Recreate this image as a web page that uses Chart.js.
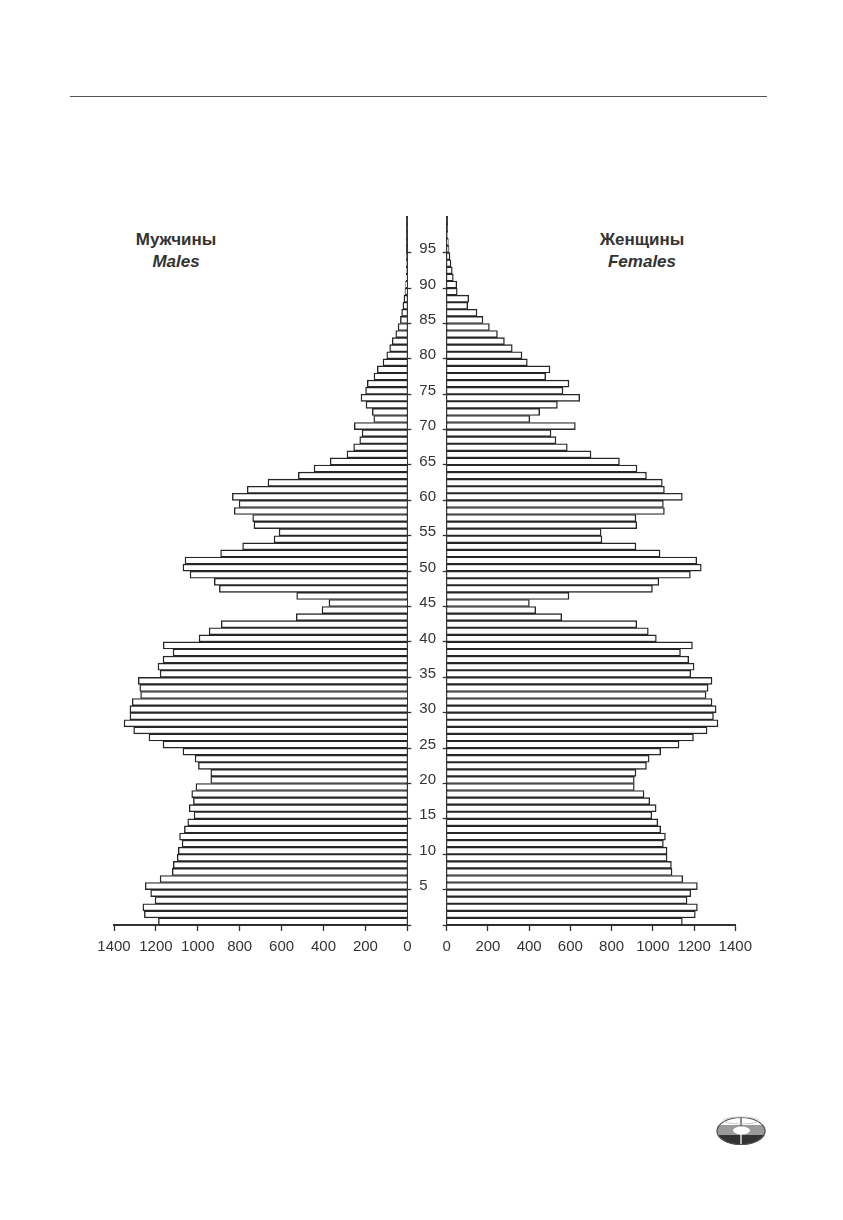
<!DOCTYPE html>
<html>
<head>
<meta charset="utf-8">
<script src="https://cdn.jsdelivr.net/npm/chart.js@4.4.0/dist/chart.umd.min.js"></script>
<style>
  body { margin: 0; background: #fff; font-family: "Liberation Sans", Arial, sans-serif; }
  .page { position: relative; width: 843px; height: 1220px; overflow: hidden; }
  .rule { position: absolute; left: 70px; top: 95.5px; width: 697px; height: 1.6px; background: #555; }
  .title { position: absolute; width: 120px; text-align: center; font-size: 17px; line-height: 22px;
           font-weight: bold; color: #333; }
  .title i { font-style: italic; }
  #leftWrap { position: absolute; left: 60px; top: 200px; width: 380px; height: 780px; }
  #rightWrap { position: absolute; left: 435px; top: 200px; width: 365px; height: 780px; }
  .logo { position: absolute; left: 712px; top: 1112px; }
</style>
</head>
<body>
<div class="page">
  <div class="rule"></div>
  <div class="title" style="left:116px;top:229px;">Мужчины<br><i>Males</i></div>
  <div class="title" style="left:582px;top:229px;">Женщины<br><i>Females</i></div>

  <div id="leftWrap"><canvas id="malesChart"></canvas></div>
  <div id="rightWrap"><canvas id="femalesChart"></canvas></div>

  <svg class="logo" width="60" height="40" viewBox="0 0 60 40">
    <defs>
      <clipPath id="oval"><ellipse cx="29" cy="19" rx="24.5" ry="14"/></clipPath>
    </defs>
    <g clip-path="url(#oval)">
      <rect x="0" y="0" width="60" height="13" fill="#fff"/>
      <rect x="0" y="13" width="60" height="10" fill="#9a9a9a"/>
      <rect x="0" y="23" width="60" height="17" fill="#333"/>
      <line x1="29" y1="4" x2="29" y2="14" stroke="#444" stroke-width="1.3"/>
      <line x1="29" y1="22" x2="29" y2="34" stroke="#fff" stroke-width="1.3"/>
    </g>
    <ellipse cx="29" cy="19" rx="24" ry="13.5" fill="none" stroke="#555" stroke-width="1.2"/>
    <ellipse cx="29" cy="8.5" rx="18" ry="3.5" fill="none" stroke="#bbb" stroke-width="0.8"/>
    <ellipse cx="29.5" cy="18.5" rx="8.5" ry="4" fill="#fff"/>
  </svg>
</div>

<script>
// single-year ages, bottom to top
const ages = [
  0, 1, 2, 3, 4, 5, 6, 7, 8, 9,
  10, 11, 12, 13, 14, 15, 16, 17, 18, 19,
  20, 21, 22, 23, 24, 25, 26, 27, 28, 29,
  30, 31, 32, 33, 34, 35, 36, 37, 38, 39,
  40, 41, 42, 43, 44, 45, 46, 47, 48, 49,
  50, 51, 52, 53, 54, 55, 56, 57, 58, 59,
  60, 61, 62, 63, 64, 65, 66, 67, 68, 69,
  70, 71, 72, 73, 74, 75, 76, 77, 78, 79,
  80, 81, 82, 83, 84, 85, 86, 87, 88, 89,
  90, 91, 92, 93, 94, 95, 96, 97, 98, 99
];

const males = [
  1188, 1255, 1262, 1204, 1225, 1251, 1180, 1122, 1117, 1098,
  1093, 1075, 1087, 1064, 1048, 1018, 1041, 1021, 1029, 1009,
  938, 938, 997, 1013, 1071, 1166, 1233, 1306, 1352, 1324,
  1324, 1313, 1273, 1277, 1284, 1180, 1190, 1166, 1118, 1165,
  994, 946, 888, 530, 407, 374, 528, 897, 921, 1037,
  1071, 1061, 891, 786, 636, 612, 732, 738, 826, 803,
  835, 764, 665, 520, 445, 368, 288, 256, 227, 216,
  253, 160, 167, 197, 221, 199, 191, 159, 143, 116,
  98, 84, 72, 55, 44, 33, 27, 21, 16, 11,
  8, 6, 5, 4, 3, 2, 2, 1, 1, 1
];

const females = [
  1143, 1206, 1216, 1166, 1184, 1216, 1145, 1093, 1090, 1069,
  1069, 1051, 1061, 1038, 1024, 995, 1016, 985, 957, 910,
  910, 918, 969, 982, 1038, 1127, 1197, 1263, 1316, 1294,
  1307, 1287, 1258, 1268, 1287, 1184, 1200, 1174, 1134, 1192,
  1017, 978, 922, 558, 432, 401, 593, 998, 1029, 1182,
  1235, 1213, 1035, 918, 753, 749, 922, 918, 1056, 1051,
  1143, 1056, 1046, 969, 923, 838, 700, 585, 530, 506,
  624, 403, 451, 537, 645, 564, 593, 480, 501, 391,
  365, 318, 280, 246, 207, 176, 147, 102, 107, 51,
  49, 32, 27, 21, 16, 11, 8, 5, 3, 2
];

const valueTicks = [0, 200, 400, 600, 800, 1000, 1200, 1400];

const ink = "#333";
const tickFont = { family: "Liberation Sans", size: 15 };

function barSet(label, data) {
  return {
    label: label,
    data: data,
    backgroundColor: "#fff",
    borderColor: "#262626",
    borderWidth: 1.4,
    categoryPercentage: 1,
    barPercentage: 1
  };
}

function valueAxis(reverse) {
  return {
    type: "linear",
    reverse: reverse,
    min: valueTicks[0],
    max: valueTicks[valueTicks.length - 1],
    afterBuildTicks: (scale) => {
      scale.ticks = valueTicks.map((v) => ({ value: v }));
    },
    afterFit: (scale) => { scale.height = 55; },
    grid: { drawOnChartArea: false, drawTicks: true, tickLength: 6, color: ink, tickWidth: 1.3 },
    border: { display: true, color: ink, width: 2 },
    ticks: {
      color: ink,
      font: tickFont,
      padding: 7,
      maxRotation: 0,
      callback: (v) => String(v)
    }
  };
}

function ageAxis(position, width, showLabels) {
  return {
    type: "category",
    position: position,
    reverse: true,
    afterFit: (scale) => { scale.width = width; },
    grid: {
      drawOnChartArea: false,
      drawTicks: true,
      tickLength: 4,
      tickWidth: 1.3,
      tickColor: (ctx) => (ctx.index % 5 === 0 ? ink : "rgba(0,0,0,0)")
    },
    border: { display: true, color: ink, width: 2 },
    ticks: {
      display: showLabels,
      autoSkip: false,
      color: ink,
      font: tickFont,
      padding: 8,
      callback: function (v, i) {
        return i > 0 && i % 5 === 0 ? String(ages[i]) : "";
      }
    }
  };
}

const common = {
  indexAxis: "y",
  responsive: true,
  maintainAspectRatio: false,
  animation: false,
  plugins: { legend: { display: false }, tooltip: { enabled: false } }
};

// Males - left half, bars grow to the left
new Chart(document.getElementById("malesChart"), {
  type: "bar",
  data: { labels: ages, datasets: [barSet("Males", males)] },
  options: Object.assign({}, common, {
    layout: { padding: { left: 54, right: 0, top: 17.3, bottom: 0 } },
    scales: {
      x: valueAxis(true),
      y: ageAxis("right", 32.7, true)
    }
  })
});

// Females - right half
new Chart(document.getElementById("femalesChart"), {
  type: "bar",
  data: { labels: ages, datasets: [barSet("Females", females)] },
  options: Object.assign({}, common, {
    layout: { padding: { left: 0, right: 64.7, top: 17.3, bottom: 0 } },
    scales: {
      x: valueAxis(false),
      y: ageAxis("left", 11.7, false)
    }
  })
});
</script>
</body>
</html>
